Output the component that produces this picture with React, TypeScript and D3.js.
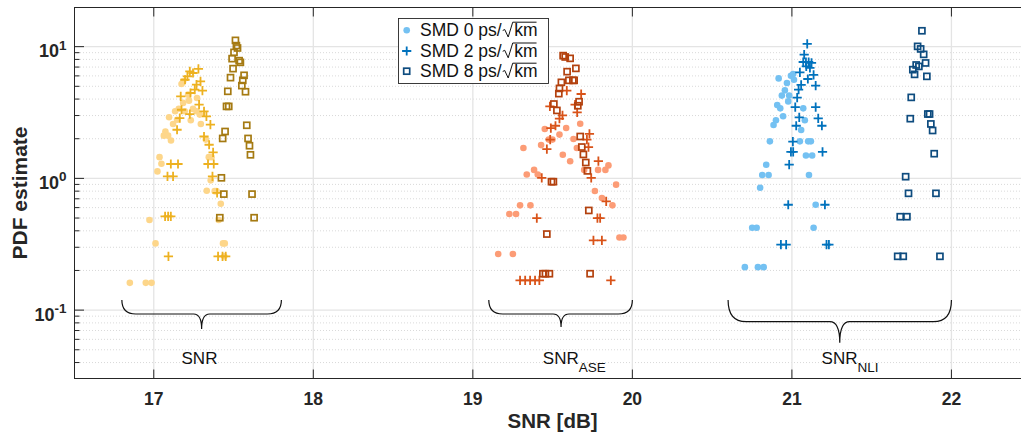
import React, { useEffect, useRef } from 'react';
import * as d3 from 'd3';

// ---------- data ----------
const xDomain: [number, number] = [16.5, 22.5];
const yDomain: [number, number] = [0.03, 20];
const xTicks = [17, 18, 19, 20, 21, 22];
const yMajor = [0.1, 1, 10];
const yMajorExp = ['-1', '0', '1'];
const xLabel = 'SNR [dB]';
const yLabel = 'PDF estimate';
const legendLabels = ['SMD 0 ps/', 'SMD 2 ps/', 'SMD 8 ps/'];
const legendRoot = 'km';

type P = [number, number];

// SNR (total)
const snrSmd0: P[] = [[17.174,5.21],[17.184,5.45],[17.215,4.32],[17.221,3.89],[17.184,3.74],[17.271,4.08],[17.157,3.38],[17.134,3.23],[17.194,3.23],[17.246,3.37],[17.268,3.23],[17.288,3.05],[17.096,2.91],[17.146,2.79],[17.232,2.76],[17.121,2.59],[17.295,2.59],[17.073,2.27],[17.063,2.11],[17.090,2.11],[17.108,1.94],[17.326,1.97],[17.345,1.45],[17.362,1.45],[17.036,1.45],[17.048,1.29],[17.023,1.13],[17.357,0.966],[17.332,0.806],[17.382,0.80],[17.393,0.80],[17.420,0.642],[16.973,0.483],[17.407,0.483],[17.011,0.321],[17.434,0.321],[17.445,0.321],[16.850,0.161],[16.950,0.161],[16.986,0.161],[17.442,0.256]];
const snrSmd2: P[] = [[17.280,6.77],[17.226,6.49],[17.246,6.31],[17.211,5.95],[17.196,5.61],[17.293,5.45],[17.268,5.15],[17.257,4.72],[17.305,4.63],[17.230,4.45],[17.169,4.19],[17.284,3.63],[17.174,3.32],[17.315,3.23],[17.226,3.08],[17.330,2.96],[17.163,2.87],[17.355,2.56],[17.146,2.34],[17.315,2.08],[17.347,1.80],[17.372,1.576],[17.107,1.286],[17.152,1.286],[17.340,1.286],[17.376,1.286],[17.086,1.035],[17.121,1.035],[17.368,1.035],[17.397,0.775],[17.071,0.514],[17.090,0.514],[17.107,0.514],[17.092,0.256],[17.403,0.256],[17.431,0.256],[17.451,0.256]];
const snrSmd8: P[] = [[17.512,11.16],[17.518,10.18],[17.525,9.77],[17.503,9.05],[17.491,8.11],[17.535,7.83],[17.543,7.60],[17.497,6.81],[17.566,6.06],[17.481,5.82],[17.558,5.55],[17.552,5.06],[17.464,4.58],[17.575,4.55],[17.456,3.52],[17.470,3.52],[17.583,2.53],[17.447,2.27],[17.432,2.01],[17.591,2.01],[17.600,1.77],[17.606,1.51],[17.424,1.01],[17.439,0.76],[17.616,0.76],[17.414,0.503],[17.629,0.503]];

// SNR_ASE
const aseSmd0: P[] = [[19.451,2.37],[19.585,2.41],[19.543,2.15],[19.673,2.60],[19.476,1.97],[19.499,1.97],[19.631,1.99],[19.317,1.70],[19.428,1.79],[19.652,1.70],[19.564,1.51],[19.610,1.35],[19.850,1.255],[19.785,1.16],[19.831,1.16],[19.698,1.16],[19.384,1.16],[19.338,1.07],[19.407,1.07],[19.898,0.896],[19.765,0.802],[19.809,0.710],[19.875,0.624],[19.296,0.624],[19.361,0.624],[19.229,0.537],[19.271,0.537],[19.919,0.356],[19.944,0.356],[19.159,0.267],[19.251,0.267]];
const aseSmd2: P[] = [[19.589,4.63],[19.679,4.37],[19.641,3.63],[19.483,3.52],[19.654,3.17],[19.562,3.01],[19.543,2.84],[19.518,2.51],[19.489,2.41],[19.731,2.18],[19.715,1.97],[19.485,1.97],[19.464,1.67],[19.725,1.73],[19.787,1.35],[19.742,1.01],[19.432,1.01],[19.836,0.669],[19.401,0.50],[19.781,0.50],[19.798,0.50],[19.756,0.338],[19.809,0.338],[19.296,0.168],[19.328,0.168],[19.359,0.168],[19.390,0.168],[19.417,0.168],[19.865,0.168]];
const aseSmd8: P[] = [[19.566,8.55],[19.579,8.35],[19.610,8.15],[19.646,6.84],[19.591,6.46],[19.602,5.55],[19.627,5.55],[19.635,5.55],[19.555,5.36],[19.543,4.82],[19.539,4.40],[19.666,3.82],[19.658,3.56],[19.508,3.67],[19.527,3.28],[19.673,2.08],[19.683,1.73],[19.693,1.52],[19.708,1.32],[19.718,1.14],[19.493,0.944],[19.505,0.944],[19.727,0.571],[19.464,0.378],[19.439,0.189],[19.455,0.189],[19.480,0.189],[19.735,0.189]];

// SNR_NLI
const nliSmd0: P[] = [[20.917,5.74],[20.994,6.02],[21.008,6.20],[20.969,5.30],[21.013,5.61],[20.956,4.66],[20.937,4.25],[20.983,4.25],[20.977,3.84],[20.908,3.61],[20.927,3.40],[21.071,3.40],[20.945,2.96],[20.900,2.76],[20.885,2.54],[21.081,2.76],[21.058,2.33],[20.862,1.91],[21.050,1.91],[21.102,1.91],[21.119,1.91],[21.088,1.49],[21.127,1.49],[20.839,1.27],[20.814,1.06],[20.854,1.06],[21.107,1.06],[20.801,0.85],[21.149,0.631],[20.751,0.422],[20.779,0.422],[21.136,0.422],[20.705,0.212],[20.787,0.212],[20.823,0.212]];
const nliSmd2: P[] = [[21.096,10.5],[21.077,8.70],[21.071,7.65],[21.088,7.65],[21.105,7.65],[21.123,7.52],[21.090,7.08],[21.113,6.89],[21.050,6.38],[21.136,6.10],[21.100,5.68],[21.058,5.12],[21.149,5.06],[21.042,4.72],[21.033,4.10],[21.149,3.48],[21.021,3.48],[21.046,2.91],[21.165,2.85],[21.027,2.51],[21.188,2.51],[21.006,1.90],[21.192,1.59],[20.994,1.59],[21.008,1.59],[20.983,1.27],[20.977,0.631],[21.207,0.631],[20.931,0.314],[20.964,0.314],[21.217,0.314],[21.232,0.314]];
const nliSmd8: P[] = [[21.815,13.2],[21.788,10.05],[21.807,9.61],[21.826,8.74],[21.838,7.52],[21.779,7.26],[21.796,7.08],[21.758,6.69],[21.769,6.16],[21.846,5.95],[21.748,4.12],[21.742,2.84],[21.852,3.08],[21.863,3.08],[21.871,2.59],[21.882,2.31],[21.892,1.54],[21.713,1.03],[21.731,0.77],[21.903,0.77],[21.679,0.512],[21.721,0.512],[21.663,0.256],[21.698,0.256],[21.928,0.256]];

// braces (in SNR units)
const braceFrom = [16.80, 19.10, 20.60];
const braceTo = [17.80, 20.00, 22.00];
const braceTip = [17.30, 19.553, 21.30];
const braceLabelAt = [17.174, 19.439, 21.186];
const braceMain = ['SNR', 'SNR', 'SNR'];
const braceSub = ['', 'ASE', 'NLI'];

// ---------- styles ----------
const groupColors = [
  ['#FDD68A', '#EDB120', '#A57A12'],
  ['#FC9C76', '#D95319', '#B3410E'],
  ['#74C1F2', '#0072BD', '#0E4C7F'],
];
const braceShape = [
  { y0: 300, y1: 314, y2: 329, r: 14, r2: 8 },
  { y0: 300, y1: 314, y2: 327, r: 14, r2: 8 },
  { y0: 300, y1: 321.7, y2: 342.7, r: 18, r2: 10 },
];

export default function App() {
  const ref = useRef<SVGSVGElement>(null);

  useEffect(() => {
    const svg = d3.select(ref.current);
    svg.selectAll('*').remove();
    const font = "'Liberation Sans', Arial, Helvetica, sans-serif";
    const ink = '#262626';
    const L = 74, T = 7, B = 379, R = 1031.2;
    const x = d3.scaleLinear().domain(xDomain).range([L, R]);
    const y = d3.scaleLog().domain(yDomain).range([B, T]);

    svg.append('rect').attr('x', 0).attr('y', 0).attr('width', 1021).attr('height', 436).attr('fill', '#fff');

    // grid
    const minor = y.ticks().filter((v) => !yMajor.some((m) => Math.abs(m - v) < 1e-9) && v > yDomain[0] && v < yDomain[1]);
    const grid = svg.append('g');
    grid.selectAll('line.mn').data(minor).enter().append('line')
      .attr('x1', L).attr('x2', R).attr('y1', (d) => y(d)).attr('y2', (d) => y(d))
      .attr('stroke', '#cfcfcf').attr('stroke-width', 0.8).attr('stroke-dasharray', '1,2');
    grid.selectAll('line.mj').data(yMajor).enter().append('line')
      .attr('x1', L).attr('x2', R).attr('y1', (d) => y(d)).attr('y2', (d) => y(d))
      .attr('stroke', '#e4e4e4').attr('stroke-width', 1.3);
    grid.selectAll('line.vx').data(xTicks).enter().append('line')
      .attr('x1', (d) => x(d)).attr('x2', (d) => x(d)).attr('y1', T).attr('y2', B)
      .attr('stroke', '#e4e4e4').attr('stroke-width', 1.3);

    // markers
    const drawDots = (data: P[], color: string) => {
      svg.append('g').selectAll('circle').data(data).enter().append('circle')
        .attr('cx', (d) => x(d[0])).attr('cy', (d) => y(d[1])).attr('r', 3.3).attr('fill', color);
    };
    const drawPlus = (data: P[], color: string) => {
      svg.append('g').selectAll('path').data(data).enter().append('path')
        .attr('d', (d) => {
          const cx = x(d[0]), cy = y(d[1]), h = 4.6;
          return `M${cx - h},${cy}H${cx + h}M${cx},${cy - h}V${cy + h}`;
        })
        .attr('stroke', color).attr('stroke-width', 1.8).attr('fill', 'none');
    };
    const drawSquares = (data: P[], color: string) => {
      const s = 6;
      svg.append('g').selectAll('rect').data(data).enter().append('rect')
        .attr('x', (d) => x(d[0]) - s / 2).attr('y', (d) => y(d[1]) - s / 2)
        .attr('width', s).attr('height', s)
        .attr('fill', 'none').attr('stroke', color).attr('stroke-width', 1.7);
    };
    const groups: [P[], P[], P[]][] = [
      [snrSmd0, snrSmd2, snrSmd8],
      [aseSmd0, aseSmd2, aseSmd8],
      [nliSmd0, nliSmd2, nliSmd8],
    ];
    groups.forEach((g, i) => {
      drawDots(g[0], groupColors[i][0]);
      drawPlus(g[1], groupColors[i][1]);
      drawSquares(g[2], groupColors[i][2]);
    });

    // axes
    const ax = svg.append('g').attr('stroke', ink).attr('stroke-width', 1).attr('fill', 'none');
    ax.append('line').attr('x1', L).attr('x2', R).attr('y1', T + 0.5).attr('y2', T + 0.5);
    ax.append('line').attr('x1', L).attr('x2', R).attr('y1', B - 0.5).attr('y2', B - 0.5);
    ax.append('line').attr('x1', L + 0.5).attr('x2', L + 0.5).attr('y1', T).attr('y2', B);
    xTicks.forEach((t) => {
      ax.append('line').attr('x1', x(t)).attr('x2', x(t)).attr('y1', B).attr('y2', B - 9.5);
      ax.append('line').attr('x1', x(t)).attr('x2', x(t)).attr('y1', T).attr('y2', T + 9.5);
    });
    yMajor.forEach((t) => {
      ax.append('line').attr('x1', L).attr('x2', L + 10).attr('y1', y(t)).attr('y2', y(t));
    });
    minor.forEach((t) => {
      ax.append('line').attr('x1', L).attr('x2', L + 5.5).attr('y1', y(t)).attr('y2', y(t));
    });

    // tick labels
    svg.append('g').selectAll('text').data(xTicks).enter().append('text')
      .attr('x', (d) => x(d)).attr('y', 405).attr('text-anchor', 'middle')
      .attr('font-family', font).attr('font-weight', 'bold').attr('font-size', 17.5).attr('fill', ink)
      .text((d) => String(d));
    yMajor.forEach((t, i) => {
      const tx = svg.append('text').attr('x', 66.5).attr('y', y(t) + 10.5).attr('text-anchor', 'end')
        .attr('font-family', font).attr('font-weight', 'bold').attr('font-size', 18).attr('fill', ink);
      tx.append('tspan').text('10');
      tx.append('tspan').attr('dy', -7.5).attr('font-size', 13.5).text(yMajorExp[i]);
    });

    // axis labels
    svg.append('text').attr('x', x((xDomain[0] + xDomain[1]) / 2)).attr('y', 428).attr('text-anchor', 'middle')
      .attr('font-family', font).attr('font-weight', 'bold').attr('font-size', 20.5).attr('fill', ink).text(xLabel);
    svg.append('text').attr('transform', `translate(27,${(T + B) / 2}) rotate(-90)`).attr('text-anchor', 'middle')
      .attr('font-family', font).attr('font-weight', 'bold').attr('font-size', 21).attr('fill', ink).text(yLabel);

    // braces
    braceFrom.forEach((f, i) => {
      const { y0, y1, y2, r, r2 } = braceShape[i];
      const xl = x(f), xr = x(braceTo[i]), xm = x(braceTip[i]);
      const d = `M${xl},${y0} Q${xl},${y1} ${xl + r},${y1} L${xm - r2},${y1} Q${xm},${y1} ${xm},${y2} ` +
        `Q${xm},${y1} ${xm + r2},${y1} L${xr - r},${y1} Q${xr},${y1} ${xr},${y0}`;
      svg.append('path').attr('d', d).attr('fill', 'none').attr('stroke', '#111').attr('stroke-width', 1.2);
      const t = svg.append('text').attr('x', x(braceLabelAt[i])).attr('y', 364)
        .attr('font-family', font).attr('font-size', 17).attr('fill', '#111');
      t.append('tspan').text(braceMain[i]);
      if (braceSub[i]) t.append('tspan').attr('dy', 7.5).attr('font-size', 13.5).text(braceSub[i]);
    });

    // legend
    const lg = svg.append('g');
    lg.append('rect').attr('x', 398.5).attr('y', 18.5).attr('width', 150).attr('height', 65)
      .attr('fill', '#fff').attr('stroke', ink).attr('stroke-width', 0.9);
    const rowY = [30.2, 51, 71.2];
    const mx = 406.7;
    const lc = groupColors[2];
    lg.append('circle').attr('cx', mx).attr('cy', rowY[0]).attr('r', 3.3).attr('fill', lc[0]);
    lg.append('path').attr('d', `M${mx - 4.6},${rowY[1]}H${mx + 4.6}M${mx},${rowY[1] - 4.6}V${rowY[1] + 4.6}`)
      .attr('stroke', lc[1]).attr('stroke-width', 1.8);
    lg.append('rect').attr('x', mx - 3).attr('y', rowY[2] - 3).attr('width', 6).attr('height', 6)
      .attr('fill', 'none').attr('stroke', lc[2]).attr('stroke-width', 1.7);
    legendLabels.forEach((lab, i) => {
      const base = rowY[i] + 5.8;
      const t1 = lg.append('text').attr('x', 420).attr('y', base)
        .attr('font-family', font).attr('font-size', 17.5).attr('fill', '#111').text(lab);
      const w1 = (t1.node() as SVGTextElement).getComputedTextLength();
      const rx = 420 + w1 + 1;
      const t2 = lg.append('text').attr('x', rx + 11.5).attr('y', base)
        .attr('font-family', font).attr('font-size', 17.5).attr('fill', '#111').text(legendRoot);
      const w2 = (t2.node() as SVGTextElement).getComputedTextLength();
      const top = base - 13.8;
      lg.append('path')
        .attr('d', `M${rx},${base - 5.5} L${rx + 2},${base - 6.5} L${rx + 5.5},${base + 1} L${rx + 10},${top} L${rx + 11.5 + w2 - 1},${top}`)
        .attr('fill', 'none').attr('stroke', '#111').attr('stroke-width', 1);
    });
  }, []);

  return (
    <svg
      ref={ref}
      width={1021}
      height={436}
      style={{ position: 'absolute', left: 0, top: 0, display: 'block' }}
    />
  );
}
